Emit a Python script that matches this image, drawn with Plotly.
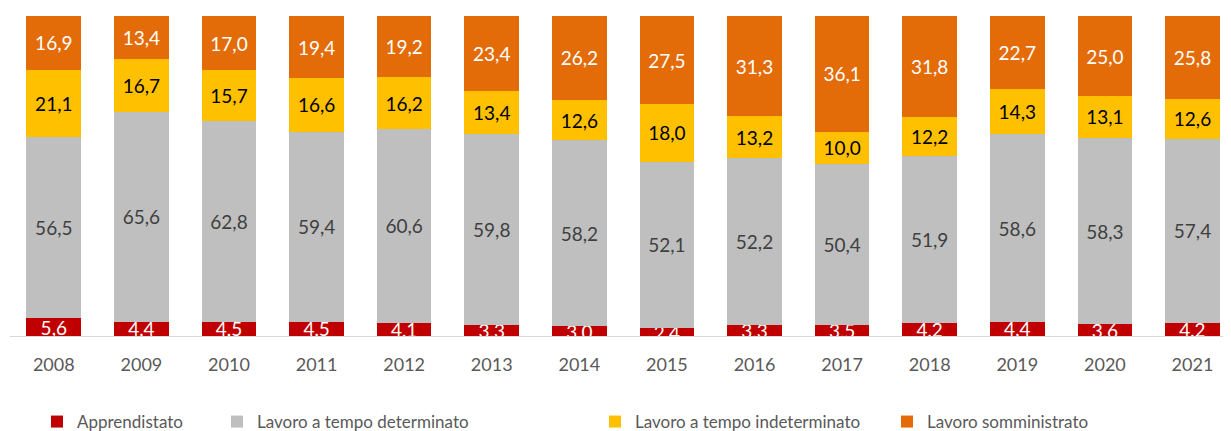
import plotly.graph_objects as go

years = ["2008", "2009", "2010", "2011", "2012", "2013", "2014",
         "2015", "2016", "2017", "2018", "2019", "2020", "2021"]
apprendistato = [5.6, 4.4, 4.5, 4.5, 4.1, 3.3, 3.0, 2.4, 3.3, 3.5, 4.2, 4.4, 3.6, 4.2]
determinato = [56.5, 65.6, 62.8, 59.4, 60.6, 59.8, 58.2, 52.1, 52.2, 50.4, 51.9, 58.6, 58.3, 57.4]
indeterminato = [21.1, 16.7, 15.7, 16.6, 16.2, 13.4, 12.6, 18.0, 13.2, 10.0, 12.2, 14.3, 13.1, 12.6]
somministrato = [16.9, 13.4, 17.0, 19.4, 19.2, 23.4, 26.2, 27.5, 31.3, 36.1, 31.8, 22.7, 25.0, 25.8]

series = [
    ("Apprendistato", apprendistato, "#C00000", "#FFFFFF", "legend"),
    ("Lavoro a tempo determinato", determinato, "#BFBFBF", "#404040", "legend2"),
    ("Lavoro a tempo indeterminato", indeterminato, "#FFC000", "#000000", "legend3"),
    ("Lavoro somministrato", somministrato, "#E36C09", "#FFFFFF", "legend4"),
]

FONT = "Lato, Carlito, Calibri, sans-serif"

fig = go.Figure()
for name, vals, color, tcolor, leg in series:
    fig.add_trace(go.Bar(
        x=years, y=vals, name=name,
        marker=dict(color=color, line=dict(width=0)),
        text=[f"{v:.1f}".replace(".", ",") for v in vals],
        textposition="inside", insidetextanchor="middle",
        textangle=0, constraintext="none",
        textfont=dict(family=FONT, size=19, color=tcolor),
        cliponaxis=True,
        legend=leg,
        hoverinfo="skip",
    ))

# page body has an 8px default margin, so the figure is sized/offset to fit the window
W, H = 1223, 423
L, R, T, B = 2, 0, 8, 95

legend_common = dict(
    orientation="h", yanchor="middle", xanchor="left",
    xref="container", yref="container",
    font=dict(family=FONT, size=17, color="#595959"),
    bgcolor="rgba(0,0,0,0)", itemwidth=30,
)
leg_x = [29, 209, 587, 879]
legends = {}
for key, lx in zip(["legend", "legend2", "legend3", "legend4"], leg_x):
    legends[key] = dict(legend_common, x=lx / W, y=(H - 414) / H)

fig.update_layout(
    barmode="stack",
    bargap=0.376,
    width=W, height=H,
    margin=dict(l=L, r=R, t=T, b=B, pad=0, autoexpand=False),
    paper_bgcolor="white", plot_bgcolor="white",
    showlegend=True,
    xaxis=dict(
        type="category", range=[-0.5, 13.44], automargin=False,
        showgrid=False, zeroline=False,
        showline=True, linecolor="#D9D9D9", linewidth=1,
        ticks="", tickfont=dict(family=FONT, size=18, color="#595959"),
        ticklabelstandoff=12,
    ),
    yaxis=dict(range=[0, 100], visible=False, fixedrange=True, automargin=False),
    **legends,
)

fig.write_html("out.html")
